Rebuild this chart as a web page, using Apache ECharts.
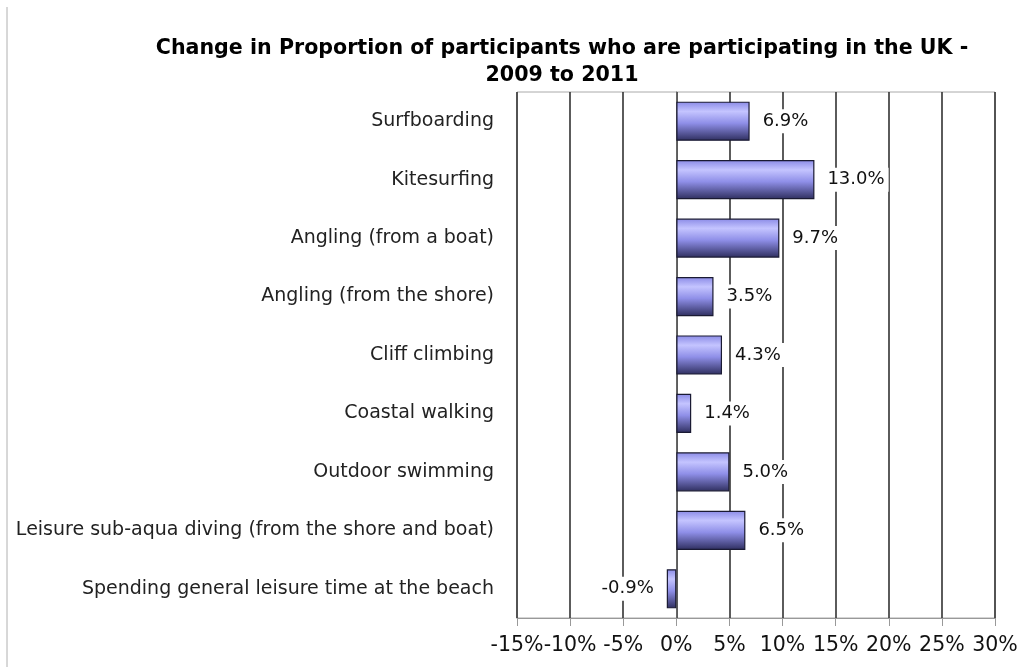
<!DOCTYPE html>
<html>
<head>
<meta charset="utf-8">
<script src="https://cdn.jsdelivr.net/npm/echarts@6/dist/echarts.min.js"></script>
<style>
  html, body { margin: 0; padding: 0; background: #fff; }
  #chart { width: 1033px; height: 667px; }
</style>
</head>
<body>
<div id="chart"></div>
<script>
// categories top -> bottom as in the picture
const categories = [
  'Surfboarding',
  'Kitesurfing',
  'Angling (from a boat)',
  'Angling (from the shore)',
  'Cliff climbing',
  'Coastal walking',
  'Outdoor swimming',
  'Leisure sub-aqua diving (from the shore and boat)',
  'Spending general leisure time at the beach'
]
const changes = [6.9, 13.0, 9.7, 3.5, 4.3, 1.4, 5.0, 6.5, -0.9]
const xTicks = [-15, -10, -5, 0, 5, 10, 15, 20, 25, 30]

const chart = echarts.init(document.getElementById('chart'))

const barFill = new echarts.graphic.LinearGradient(0, 0, 0, 1, [
  { offset: 0, color: '#8a8ae6' },
  { offset: 0.25, color: '#c4c4ff' },
  { offset: 0.55, color: '#8f8fe8' },
  { offset: 1, color: '#2e2e5e' }
])

chart.setOption({
  animation: false,
  title: {
    text: 'Change in Proportion of participants who are participating in the UK -\n2009 to 2011',
    left: 557,
    top: 30,
    textAlign: 'center',
    textStyle: {
      fontFamily: 'DejaVu Sans',
      fontWeight: 'bold',
      fontSize: 20.6,
      lineHeight: 27,
      color: '#000'
    }
  },
  graphic: [{
    type: 'line',
    shape: { x1: 7, y1: 7, x2: 7, y2: 667 },
    style: { stroke: '#b0b0b0', lineWidth: 1 }
  }],
  grid: {
    left: 517,
    right: 38,
    top: 92,
    bottom: 49,
    show: true,
    borderColor: '#aaa',
    borderWidth: 1
  },
  xAxis: {
    type: 'value',
    min: xTicks[0],
    max: xTicks[xTicks.length - 1],
    interval: 5,
    axisLine: { show: true, lineStyle: { color: '#999' } },
    axisTick: { show: true, length: 8, lineStyle: { color: '#999' } },
    splitLine: { show: true, lineStyle: { color: '#333', width: 1.6 } },
    axisLabel: {
      margin: 17,
      fontFamily: 'DejaVu Sans',
      fontSize: 20.5,
      color: '#111',
      formatter: v => v + '%'
    }
  },
  yAxis: {
    type: 'category',
    inverse: true,
    data: categories,
    axisLine: { show: true, lineStyle: { color: '#666' } },
    axisTick: { show: false },
    axisLabel: {
      margin: 23,
      fontFamily: 'DejaVu Sans',
      fontSize: 19,
      color: '#222'
    }
  },
  series: [{
    type: 'bar',
    barWidth: '67%',
    data: changes.map(v => ({
      value: v,
      label: { position: v < 0 ? 'left' : 'right' }
    })),
    itemStyle: {
      color: barFill,
      borderColor: '#1a1a33',
      borderWidth: 1.2
    },
    label: {
      show: true,
      distance: 9,
      fontFamily: 'DejaVu Sans',
      fontSize: 18,
      color: '#111',
      backgroundColor: '#fff',
      padding: [3, 4],
      formatter: p => p.value.toFixed(1) + '%'
    }
  }]
})
</script>
</body>
</html>
